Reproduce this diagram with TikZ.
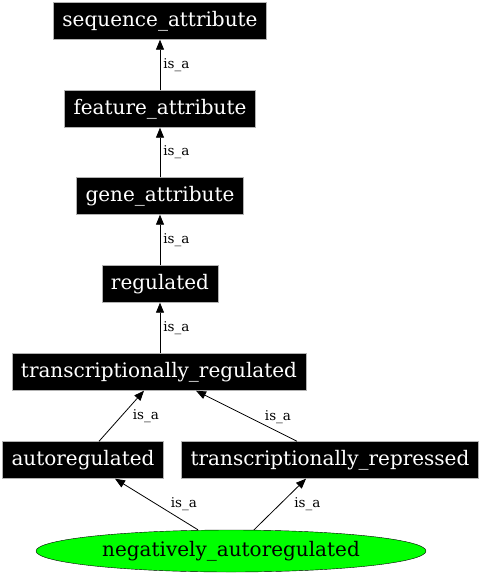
\documentclass[tikz,border=0pt]{standalone}
\usepackage{fontspec}
\setmainfont{DejaVu Serif}
\usetikzlibrary{arrows.meta}
\usetikzlibrary{shapes.geometric}
\definecolor{nodegreen}{RGB}{0,255,0}

\tikzset{
    term/.style = {draw = gray!60, fill = black, text = white, minimum height = 37pt,
                   inner xsep = 9pt, font = \fontsize{20}{22}\selectfont},
    leaf/.style = {ellipse, draw = black, fill = nodegreen, minimum width = 390pt,
                   minimum height = 42pt, inner sep = 0pt, font = \fontsize{20}{22}\selectfont},
    isa/.style = {-{Triangle[length = 10pt, width = 8pt]}, line width = 0.8pt},
    lbl/.style = {font = \fontsize{13.5}{15}\selectfont, inner sep = 0pt, anchor = west}
}

\begin{document}
\begin{tikzpicture}[x = 1pt, y = -1pt]
            \useasboundingbox (0, 0) rectangle (483, 576);

            \node [term] (seqattr) at (160, 21) {sequence\_attribute};
            \node [term] (featattr) at (160, 109) {feature\_attribute};
            \node [term] (geneattr) at (160, 196) {gene\_attribute};
            \node [term] (reg) at (160, 284) {regulated};
            \node [term] (treg) at (159, 372) {transcriptionally\_regulated};
            \node [term] (autoreg) at (83, 460) {autoregulated};
            \node [term] (trep) at (330, 460) {transcriptionally\_repressed};
            \node [leaf] (negauto) at (231, 551) {negatively\_autoregulated};

            \draw [isa] (featattr) -- node[lbl, xshift = 3pt]{is\_a} (seqattr);
            \draw [isa] (geneattr) -- node[lbl, xshift = 3pt]{is\_a} (featattr);
            \draw [isa] (reg) -- node[lbl, xshift = 3pt]{is\_a} (geneattr);
            \draw [isa] (treg.north -| reg.south) -- node[lbl, xshift = 3pt]{is\_a} (reg.south);

            \draw [isa] ([xshift = 16pt]autoreg.north) -- node[lbl, xshift = 11pt]{is\_a} ([xshift = -15pt]treg.south);
            \draw [isa] ([xshift = -33pt]trep.north) -- node[lbl, pos = 0.47, xshift = 15pt]{is\_a} ([xshift = 37pt]treg.south);

            \draw [isa] ([xshift = -33pt]negauto.north) -- node[lbl, xshift = 14pt]{is\_a} ([xshift = 32pt]autoreg.south);
            \draw [isa] ([xshift = 23pt]negauto.north) -- node[lbl, xshift = 14pt]{is\_a} ([xshift = -24pt]trep.south);
        \end{tikzpicture}
\end{document}
